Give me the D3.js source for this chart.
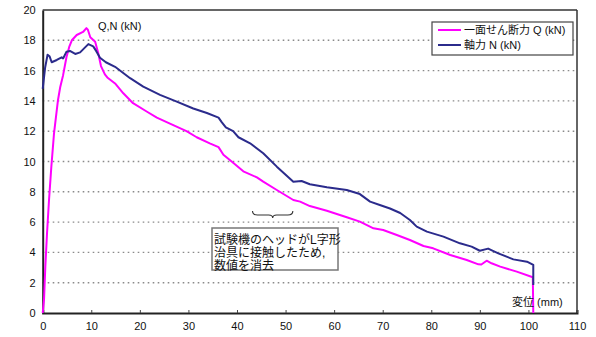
<!DOCTYPE html>
<html>
<head>
<meta charset="utf-8">
<script src="https://cdn.jsdelivr.net/npm/d3@7"></script>
<style>
  html, body { margin: 0; padding: 0; background: #fff; }
  svg text { font-family: "Liberation Sans", Arial, "Noto Sans CJK JP", sans-serif; fill: #111; }
</style>
</head>
<body>
<svg id="chart" width="596" height="337"></svg>
<script>
// Shear force Q vs. displacement (mm, kN)
const shearDisp = [0,0.27,0.54,0.89,1.3,1.78,2.33,3.15,3.6,4.2,4.9,5.5,6.0,7.0,8.3,9.0,9.3,9.8,10.8,11.4,12.0,12.8,13.3,14.9,16.6,18.6,21.4,23.5,26.2,29.6,31.7,34.4,36.2,37.2,38.9,41.3,44.1,45.4,48.2,51.6,53.0,55.0,58.5,62.6,65.3,68.1,70.1,72.9,75.6,78.4,80.4,83.9,87.3,89.7,90.3,91.4,92.4,94.2,97.6,100.9,101.0];
const shearQ    = [0,0.86,3.06,5.26,7.46,9.66,11.86,14.06,14.9,15.7,16.9,17.6,18.0,18.35,18.55,18.8,18.7,18.2,17.9,17.2,16.3,15.75,15.55,15.15,14.5,13.85,13.3,12.9,12.5,12.0,11.6,11.2,10.95,10.45,10.0,9.35,8.95,8.67,8.12,7.46,7.35,7.06,6.75,6.32,6.03,5.59,5.48,5.15,4.82,4.42,4.27,3.83,3.5,3.21,3.2,3.45,3.28,3.06,2.73,2.36,0];

// Axial force N vs. displacement (mm, kN)
const axialDisp = [0,0.5,1.0,1.4,1.85,2.9,3.9,4.2,4.9,5.6,6.7,7.7,9.4,10.4,11.0,11.8,13.0,14.9,18.0,20.7,24.15,27.6,31.0,33.8,36.2,36.85,37.7,39.2,40.3,42.7,45.4,48.2,51.6,53.3,55.0,58.5,62.6,65.3,67.4,69.4,71.5,73.6,75.6,77.0,79.1,82.5,85.9,88.3,90.0,91.7,93.8,96.9,99.7,101.0,101.0];
const axialN    = [14.8,16.2,17.05,16.95,16.55,16.7,16.88,16.8,17.25,17.3,17.1,17.2,17.75,17.6,17.3,16.85,16.55,16.25,15.5,14.94,14.4,13.95,13.5,13.2,12.9,12.6,12.25,12.0,11.6,11.2,10.54,9.66,8.67,8.71,8.5,8.3,8.12,7.85,7.35,7.13,6.9,6.6,6.14,5.7,5.37,5.04,4.6,4.38,4.11,4.25,3.94,3.54,3.39,3.17,1.85];

const xTicks = [0,10,20,30,40,50,60,70,80,90,100,110];
const yTicks = [0,2,4,6,8,10,12,14,16,18,20];

const seriesNames = ["一面せん断力 Q (kN)", "軸力 N (kN)"];
const seriesColors = ["#ff00ff", "#2b2b8c"];
const noteLines = ["試験機のヘッドがL字形", "治具に接触したため,", "数値を消去"];

const svg = d3.select("#chart");
const x = d3.scaleLinear().domain([0, 110]).range([42.7, 577]);
const y = d3.scaleLinear().domain([0, 20]).range([313, 10]);

// dotted horizontal gridlines
svg.append("g").selectAll("line")
  .data(yTicks.filter(v => v > 0 && v < 20))
  .join("line")
  .attr("x1", x(0)).attr("x2", x(110))
  .attr("y1", d => y(d)).attr("y2", d => y(d))
  .attr("stroke", "#8a8a8a").attr("stroke-width", 1.4)
  .attr("stroke-dasharray", "1.6,3.4");

// plot frame
svg.append("line").attr("x1", x(0)).attr("x2", x(110)).attr("y1", y(20)).attr("y2", y(20))
  .attr("stroke", "#333").attr("stroke-width", 1.5);
svg.append("line").attr("x1", x(110)).attr("x2", x(110)).attr("y1", y(20)).attr("y2", y(0))
  .attr("stroke", "#333").attr("stroke-width", 1.5);

// axes
const xAxis = d3.axisBottom(x).tickValues(xTicks).tickSize(-3).tickPadding(9).tickFormat(d3.format("d"));
const gx = svg.append("g").attr("transform", `translate(0,${y(0)})`).call(xAxis);
gx.select(".domain").attr("stroke", "#222").attr("stroke-width", 2);
gx.selectAll(".tick line").attr("stroke", "#444");
gx.selectAll("text").attr("font-size", 11).attr("fill", "#111");

const yAxis = d3.axisLeft(y).tickValues(yTicks).tickSize(0).tickPadding(7).tickFormat(d3.format("d"));
const gy = svg.append("g").attr("transform", `translate(${x(0)},0)`).call(yAxis);
gy.select(".domain").attr("stroke", "#222").attr("stroke-width", 2);
gy.selectAll("text").attr("font-size", 11).attr("fill", "#111");

// series lines
const line = d3.line().x(d => x(d[0])).y(d => y(d[1]));
const shear = shearDisp.map((d, i) => [d, shearQ[i]]);
const axial = axialDisp.map((d, i) => [d, axialN[i]]);

svg.append("path").datum(shear).attr("d", line)
  .attr("fill", "none").attr("stroke", seriesColors[0]).attr("stroke-width", 2)
  .attr("stroke-linejoin", "round");
svg.append("path").datum(axial).attr("d", line)
  .attr("fill", "none").attr("stroke", seriesColors[1]).attr("stroke-width", 2)
  .attr("stroke-linejoin", "round");

// axis titles
svg.append("text").attr("x", 98).attr("y", 30).attr("font-size", 11).text("Q,N (kN)");
svg.append("text").attr("x", 512).attr("y", 306).attr("font-size", 11).text("変位 (mm)");

// legend
const lg = svg.append("g");
lg.append("rect").attr("x", 432).attr("y", 22).attr("width", 141).attr("height", 33)
  .attr("fill", "#fff").attr("stroke", "#444").attr("stroke-width", 1.2);
seriesNames.forEach((name, i) => {
  const cy = 30 + i * 15;
  lg.append("line").attr("x1", 438).attr("x2", 461).attr("y1", cy).attr("y2", cy)
    .attr("stroke", seriesColors[i]).attr("stroke-width", 2);
  lg.append("text").attr("x", 464).attr("y", cy + 4).attr("font-size", 11).text(name);
});

// brace marking the removed range
const bx0 = x(43.2), bx1 = x(51.5), bm = (bx0 + bx1) / 2, by = 211;
svg.append("path")
  .attr("d", `M${bx0},${by} Q${bx0},${by + 4} ${bx0 + 5},${by + 4} L${bm - 4},${by + 4} Q${bm},${by + 4} ${bm},${by + 7}
              Q${bm},${by + 4} ${bm + 4},${by + 4} L${bx1 - 5},${by + 4} Q${bx1},${by + 4} ${bx1},${by}`)
  .attr("fill", "none").attr("stroke", "#333").attr("stroke-width", 1.1);

// note box
const ng = svg.append("g");
ng.append("rect").attr("x", 212).attr("y", 228).attr("width", 126).attr("height", 42)
  .attr("fill", "#fff").attr("stroke", "#777").attr("stroke-width", 1.5);
noteLines.forEach((t, i) => {
  ng.append("text").attr("x", 214).attr("y", 243.5 + i * 13).attr("font-size", 12).text(t);
});
</script>
</body>
</html>
